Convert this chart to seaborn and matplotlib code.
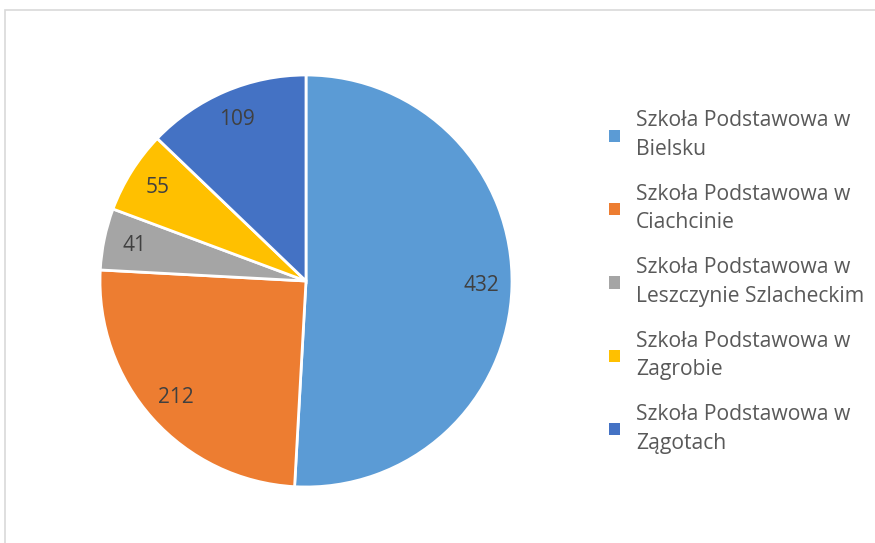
import matplotlib
matplotlib.use("Agg")
import matplotlib.pyplot as plt
import matplotlib.patches as mpatches
import seaborn as sns

schools = [
    "Szkoła Podstawowa w\nBielsku",
    "Szkoła Podstawowa w\nCiachcinie",
    "Szkoła Podstawowa w\nLeszczynie Szlacheckim",
    "Szkoła Podstawowa w\nZagrobie",
    "Szkoła Podstawowa w\nZągotach",
]
counts = [432, 212, 41, 55, 109]
colors = ["#5B9BD5", "#ED7D31", "#A5A5A5", "#FFC000", "#4472C4"]

sns.set_theme(style="white")
plt.rcParams["font.family"] = ["Open Sans", "DejaVu Sans"]

fig = plt.figure(figsize=(8.75, 5.43), dpi=100)
fig.patch.set_facecolor("white")

# light frame around the chart area (runs off the right and bottom edges)
frame = mpatches.Rectangle((5 / 875, -0.1), 1.2, 0.1 + 1 - 10.5 / 543,
                           transform=fig.transFigure, fill=False,
                           edgecolor="#D9D9D9", linewidth=1.2, clip_on=False)
fig.patches.append(frame)

ax = fig.add_axes([100 / 875, 56 / 543, 412 / 875, 412 / 543])
wedges, texts, autotexts = ax.pie(
    counts,
    colors=colors,
    startangle=90,
    counterclock=False,
    autopct=lambda p: f"{round(p * sum(counts) / 100):d}",
    pctdistance=0.85,
    wedgeprops=dict(edgecolor="white", linewidth=2),
    textprops=dict(color="#404040", fontsize=15),
)
ax.set_xlim(-1, 1)
ax.set_ylim(-1, 1)
ax.set_aspect("equal")
ax.axis("off")

handles = [mpatches.Patch(facecolor=c, edgecolor="none") for c in colors]
leg = fig.legend(handles, schools, loc="upper left",
                 bbox_to_anchor=(601 / 875, 1 - 102 / 543),
                 frameon=False, fontsize=15.2, labelcolor="#595959",
                 handlelength=0.5, handleheight=0.5, handletextpad=0.75,
                 labelspacing=1.15, borderaxespad=0)
for t in leg.get_texts():
    t.set_linespacing(1.45)

plt.savefig("out.png", dpi=100, facecolor="white")
